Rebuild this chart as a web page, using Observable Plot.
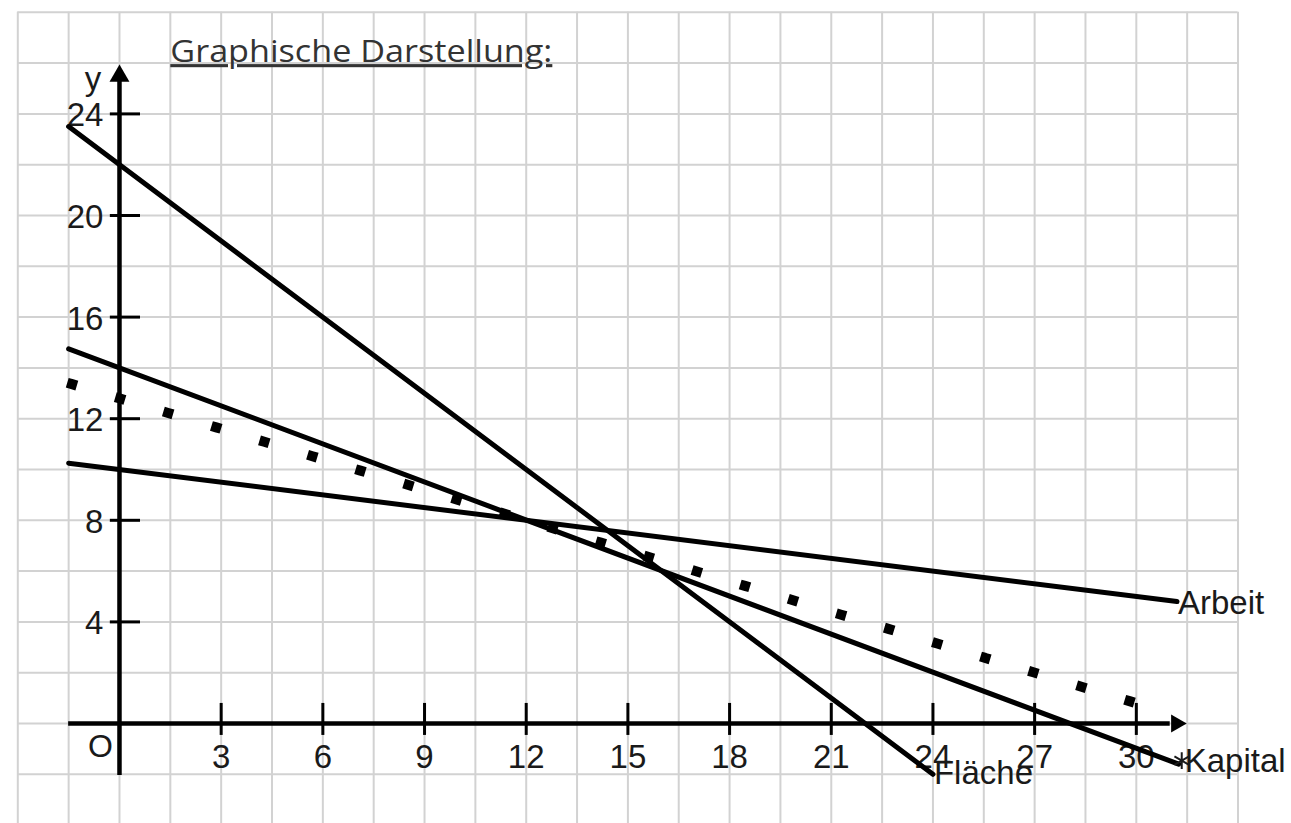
<!DOCTYPE html>
<html>
<head>
<meta charset="utf-8">
<script src="https://cdn.jsdelivr.net/npm/d3@7"></script>
<script src="https://cdn.jsdelivr.net/npm/@observablehq/plot@0.6"></script>
<style>
  html, body { margin: 0; padding: 0; background: #fff; }
  #chart svg { display: block; }
</style>
</head>
<body>
<div id="chart"></div>
<script>
// ---- data ----
const title = "Graphische Darstellung:";
const gridX = [-3, -1.5, 0, 1.5, 3, 4.5, 6, 7.5, 9, 10.5, 12, 13.5, 15, 16.5, 18, 19.5, 21, 22.5, 24, 25.5, 27, 28.5, 30, 31.5, 33];
const gridY = [-4, -2, 0, 2, 4, 6, 8, 10, 12, 14, 16, 18, 20, 22, 24, 26, 28];
const xTicks = [3, 6, 9, 12, 15, 18, 21, 24, 27, 30];
const yTicks = [4, 8, 12, 16, 20, 24];

// lines (start / end points)
const flaecheX = [-1.5, 24];
const flaecheY = [23.5, -2];
const kapitalX = [-1.5, 31.25];
const kapitalY = [14.75, -1.6];
const arbeitX = [-1.5, 31.2];
const arbeitY = [10.25, 4.8];
const dottedX = [-1.4, 29.8];
const dottedY = [13.36, 0.88];

const toPts = (xs, ys) => xs.map((x, i) => ({x, y: ys[i]}));
const flaeche = toPts(flaecheX, flaecheY);
const kapital = toPts(kapitalX, kapitalY);
const arbeit = toPts(arbeitX, arbeitY);
const dotted = toPts(dottedX, dottedY);

const labelFont = "Liberation Sans, Arial, sans-serif";
const ink = "#1a1a1a";

const chart = Plot.plot({
  width: 1291,
  height: 823,
  margin: 0,
  style: {background: "#fff", overflow: "visible"},
  x: {domain: [-3, 33], range: [17.3, 1237.5], axis: null},
  y: {domain: [-4, 28], range: [824.6, 11.8], axis: null},
  marks: [
    // grid paper
    Plot.ruleX(gridX, {x: d => d, y1: -4, y2: 28, stroke: "#d2d2d2", strokeWidth: 2}),
    Plot.ruleY(gridY, {y: d => d, x1: -3, x2: 33, stroke: "#d2d2d2", strokeWidth: 2}),
    // title
    Plot.text([title], {x: 1.5, y: 26.43, text: d => d, textAnchor: "start", lineAnchor: "middle",
      fontSize: 31, fontFamily: "Open Sans, Lato, sans-serif", fill: "#333"}),
    // axes
    Plot.ruleY([0], {x1: -1.5, x2: 31.0, stroke: "#000", strokeWidth: 4.5}),
    Plot.ruleX([0], {y1: -2.05, y2: 25.3, stroke: "#000", strokeWidth: 4.5}),
    Plot.dot([0], {x: 0, y: 25.49, symbol: "triangle", r: 7.4, fill: "#000", stroke: "none"}),
    Plot.dot([0], {x: 31.18, y: 0, symbol: "triangle", r: 6.7, rotate: 90, fill: "#000", stroke: "none"}),
    Plot.ruleX(xTicks, {x: d => d, y1: 0.79, y2: -0.47, stroke: "#000", strokeWidth: 3}),
    Plot.ruleY(yTicks, {y: d => d, x1: -0.27, x2: 0.62, stroke: "#000", strokeWidth: 3}),
    Plot.text(xTicks, {x: d => d, y: 0, text: d => String(d), dy: 21, lineAnchor: "top",
      fontSize: 33, fontFamily: labelFont, fill: ink}),
    Plot.text(yTicks, {x: 0, y: d => d, text: d => String(d), dx: -16, dy: 2, textAnchor: "end", lineAnchor: "middle",
      fontSize: 33, fontFamily: labelFont, fill: ink}),
    Plot.text(["O"], {x: 0, y: 0, text: d => d, dx: -19, dy: 23, lineAnchor: "middle",
      fontSize: 32, fontFamily: labelFont, fill: ink}),
    Plot.text(["y"], {x: 0, y: 25.34, text: d => d, dx: -26.5, lineAnchor: "middle",
      fontSize: 33, fontFamily: labelFont, fill: ink}),
    // dotted line
    Plot.line(dotted, {x: "x", y: "y", stroke: "#000", strokeWidth: 10, strokeLinecap: "square",
      strokeDasharray: "0.01,50.17"}),
    // solid lines
    Plot.line(flaeche, {x: "x", y: "y", stroke: "#000", strokeWidth: 5}),
    Plot.line(kapital, {x: "x", y: "y", stroke: "#000", strokeWidth: 5}),
    Plot.line(arbeit, {x: "x", y: "y", stroke: "#000", strokeWidth: 5}),
    // line labels
    Plot.text([arbeit[1]], {x: "x", y: "y", text: () => "Arbeit", dx: 1, dy: 1.4, textAnchor: "start", lineAnchor: "middle",
      fontSize: 33, fontFamily: labelFont, fill: ink}),
    Plot.text([kapital[1]], {x: "x", y: "y", text: () => "Kapital", dx: 6, dy: -2.9, textAnchor: "start", lineAnchor: "middle",
      fontSize: 33, fontFamily: labelFont, fill: ink}),
    Plot.dot([0], {x: 31.34, y: -1.46, symbol: "asterisk", r: 8, stroke: ink, strokeWidth: 2}),
    Plot.text([flaeche[1]], {x: "x", y: "y", text: () => "Fläche", dx: 1, dy: -1.2, textAnchor: "start", lineAnchor: "middle",
      fontSize: 33, fontFamily: labelFont, fill: ink})
  ]
});

document.getElementById("chart").append(chart);

d3.select(chart).selectAll("text")
  .filter(function () { return this.textContent === title; })
  .attr("textLength", 382)
  .attr("lengthAdjust", "spacingAndGlyphs")
  .style("text-decoration", "underline");
</script>
</body>
</html>
